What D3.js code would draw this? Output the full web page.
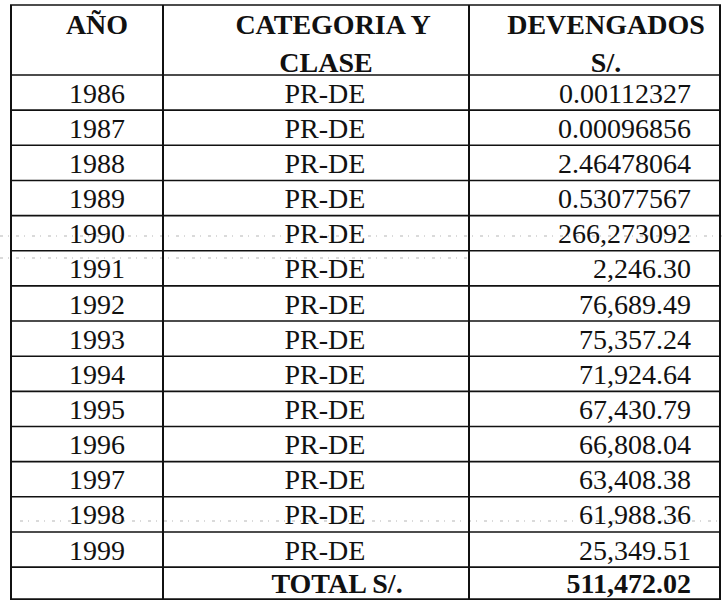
<!DOCTYPE html>
<html>
<head>
<meta charset="utf-8">
<script src="https://cdn.jsdelivr.net/npm/d3@7/dist/d3.min.js"></script>
<style>
  html, body { margin: 0; padding: 0; background: #ffffff; }
  svg { display: block; }
</style>
</head>
<body>
<svg id="chart" width="722" height="600"></svg>
<script>
// ---- data ----
const headers = [["AÑO"], ["CATEGORIA Y", "CLASE"], ["DEVENGADOS", "S/."]];
const years = ["1986","1987","1988","1989","1990","1991","1992","1993","1994","1995","1996","1997","1998","1999"];
const categories = ["PR-DE","PR-DE","PR-DE","PR-DE","PR-DE","PR-DE","PR-DE","PR-DE","PR-DE","PR-DE","PR-DE","PR-DE","PR-DE","PR-DE"];
const devengados = ["0.00112327","0.00096856","2.46478064","0.53077567","266,273092","2,246.30","76,689.49","75,357.24","71,924.64","67,430.79","66,808.04","63,408.38","61,988.36","25,349.51"];
const totalLabel = "TOTAL S/.";
const totalValue = "511,472.02";

// ---- layout ----
const FONT = "'Liberation Serif', 'Times New Roman', Times, 'DejaVu Serif', serif";
const svg = d3.select("#chart").attr("font-family", FONT).style("font-family", FONT);
const colEdges = [11, 163, 469, 720];
const tableTop = 5, headerBottom = 75, rowH = 35.15, totalH = 32;
const nRows = years.length;
const rowY = d3.scaleLinear().domain([0, nRows]).range([headerBottom, headerBottom + nRows * rowH]);
const tableBottom = rowY(nRows) + totalH;

const fs = 28;
const colText = [97, 325, 606];   // centers
const headerShift = [[0], [8, 1], [0, 0]];
const valRight = 691;

// faint scan artefact lines
const artefacts = [
  {y: 236, x1: 0, x2: 722},
  {y: 258, x1: 0, x2: 470},
  {y: 521, x1: 20, x2: 722}
];
svg.selectAll("line.art").data(artefacts).enter().append("line")
  .attr("x1", d => d.x1).attr("x2", d => d.x2)
  .attr("y1", d => d.y).attr("y2", d => d.y)
  .attr("stroke", "#b5b5b5").attr("stroke-width", 1)
  .attr("stroke-dasharray", "3,5,1,7");

// horizontal lines
const hLines = [tableTop, headerBottom].concat(d3.range(1, nRows + 1).map(i => rowY(i))).concat([tableBottom]);
svg.selectAll("line.h").data(hLines).enter().append("line")
  .attr("x1", colEdges[0] - 1).attr("x2", colEdges[3] + 1)
  .attr("y1", d => d).attr("y2", d => d)
  .attr("stroke", "#111").attr("stroke-width", 1.6);

// vertical lines
svg.selectAll("line.v").data(colEdges).enter().append("line")
  .attr("x1", d => d).attr("x2", d => d)
  .attr("y1", tableTop).attr("y2", tableBottom)
  .attr("stroke", "#111").attr("stroke-width", 2);

function txt(sel) {
  return sel.attr("font-family", FONT).attr("fill", "#111").attr("font-size", fs);
}

// header
const hdr = svg.append("g");
headers.forEach((lines, ci) => {
  lines.forEach((t, li) => {
    txt(hdr.append("text"))
      .attr("x", colText[ci] + headerShift[ci][li])
      .attr("y", 34 + li * 38)
      .attr("text-anchor", "middle")
      .attr("font-weight", "bold")
      .text(t);
  });
});

// rows
const rows = svg.selectAll("g.row").data(years.map((y, i) => ({y, c: categories[i], v: devengados[i], i})))
  .enter().append("g");
txt(rows.append("text"))
  .attr("x", colText[0]).attr("y", d => rowY(d.i + 1) - 7.5)
  .attr("text-anchor", "middle").text(d => d.y);
txt(rows.append("text"))
  .attr("x", colText[1]).attr("y", d => rowY(d.i + 1) - 7.5)
  .attr("text-anchor", "middle").text(d => d.c);
txt(rows.append("text"))
  .attr("x", valRight).attr("y", d => rowY(d.i + 1) - 7.5)
  .attr("text-anchor", "end").text(d => d.v);

// total row
txt(svg.append("text"))
  .attr("x", 337).attr("y", tableBottom - 6)
  .attr("text-anchor", "middle").attr("font-weight", "bold")
  .text(totalLabel);
txt(svg.append("text"))
  .attr("x", valRight).attr("y", tableBottom - 6)
  .attr("text-anchor", "end").attr("font-weight", "bold")
  .text(totalValue);
</script>
</body>
</html>
